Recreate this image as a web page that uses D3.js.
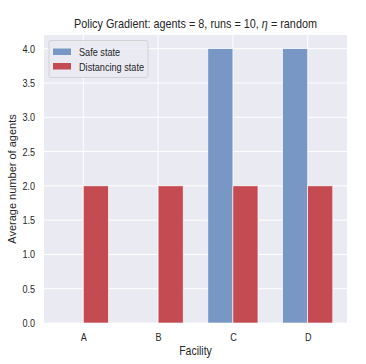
<!DOCTYPE html>
<html>
<head>
<meta charset="utf-8">
<script src="https://cdn.jsdelivr.net/npm/d3@7"></script>
<style>
  body { margin: 0; background: #fff; }
  text { font-family: "Liberation Sans", Arial, sans-serif; fill: #262626; }
</style>
</head>
<body>
<div id="chart"></div>
<script>
const facilities = ["A", "B", "C", "D"];
const safeState = [0, 0, 4, 4];
const distancingState = [2, 2, 2, 2];
const yTicks = [0, 0.5, 1, 1.5, 2, 2.5, 3, 3.5, 4];

const width = 366, height = 364;
const margin = {left: 44, right: 19, top: 35, bottom: 41};
const squeeze = 0.84; // the source picture's text looks horizontally condensed

const svg = d3.select("#chart").append("svg")
  .attr("width", width)
  .attr("height", height);

// x as numeric positions like matplotlib
const x = d3.scaleLinear()
  .domain([-0.525, facilities.length - 1 + 0.525])
  .range([margin.left, width - margin.right]);
const y = d3.scaleLinear()
  .domain([0, 4.2])
  .range([height - margin.bottom, margin.top]);

const barW = 0.335;

svg.append("rect")
  .attr("x", margin.left)
  .attr("y", margin.top)
  .attr("width", width - margin.left - margin.right)
  .attr("height", height - margin.top - margin.bottom)
  .attr("fill", "#eaeaf2");

// grid
svg.append("g").selectAll("line")
  .data(yTicks).join("line")
  .attr("x1", margin.left).attr("x2", width - margin.right)
  .attr("y1", d => y(d)).attr("y2", d => y(d))
  .attr("stroke", "#fff").attr("stroke-width", 1);
svg.append("g").selectAll("line")
  .data(facilities).join("line")
  .attr("x1", (d, i) => x(i)).attr("x2", (d, i) => x(i))
  .attr("y1", margin.top).attr("y2", height - margin.bottom)
  .attr("stroke", "#fff").attr("stroke-width", 1);

// bars
svg.append("g").selectAll("rect")
  .data(safeState).join("rect")
  .attr("x", (d, i) => x(i - barW))
  .attr("width", x(barW) - x(0))
  .attr("y", d => y(d))
  .attr("height", d => y(0) - y(d))
  .attr("fill", "#7897c5")
  .attr("stroke", "#fff").attr("stroke-width", 0.6);

svg.append("g").selectAll("rect")
  .data(distancingState).join("rect")
  .attr("x", (d, i) => x(i))
  .attr("width", x(barW) - x(0))
  .attr("y", d => y(d))
  .attr("height", d => y(0) - y(d))
  .attr("fill", "#c54b53")
  .attr("stroke", "#fff").attr("stroke-width", 0.6);

// axes
const yAxis = svg.append("g")
  .attr("transform", `translate(${margin.left},0)`)
  .call(d3.axisLeft(y).tickValues(yTicks).tickFormat(d3.format(".1f")).tickSize(0).tickPadding(9 / squeeze));
yAxis.select(".domain").remove();
yAxis.selectAll("text")
  .style("font-size", "10.8px").attr("fill", "#262626")
  .attr("transform", `scale(${squeeze},1)`);

const xAxis = svg.append("g")
  .attr("transform", `translate(0,${height - margin.bottom})`)
  .call(d3.axisBottom(x).tickValues(d3.range(facilities.length)).tickFormat(i => facilities[i]).tickSize(0).tickPadding(10));
xAxis.select(".domain").remove();
xAxis.selectAll("text")
  .style("font-size", "10.8px").attr("fill", "#262626")
  .attr("transform", `scale(${squeeze},1)`);

// labels
svg.append("text")
  .attr("transform", `translate(${x(1.5)},355) scale(${squeeze},1)`)
  .attr("text-anchor", "middle")
  .style("font-size", "12.5px")
  .text("Facility");

svg.append("text")
  .attr("transform", `translate(16,${(margin.top + height - margin.bottom) / 2}) rotate(-90)`)
  .attr("text-anchor", "middle")
  .style("font-size", "11px")
  .text("Average number of agents");

const title = svg.append("text")
  .attr("transform", `translate(${x(1.5)},28) scale(${squeeze},1)`)
  .attr("text-anchor", "middle")
  .style("font-size", "12.9px");
title.append("tspan").text("Policy Gradient: agents = 8, runs = 10, ");
title.append("tspan").style("font-style", "italic").text("η");
title.append("tspan").text(" = random");

// legend
const legendItems = [
  {label: "Safe state", color: "#7897c5"},
  {label: "Distancing state", color: "#c54b53"}
];
const lg = svg.append("g").attr("transform", "translate(49,40.5)");
lg.append("rect")
  .attr("width", 99).attr("height", 37).attr("rx", 2)
  .attr("fill", "#eaeaf2").attr("fill-opacity", 0.8)
  .attr("stroke", "#cccccc").attr("stroke-width", 0.8);
const li = lg.selectAll("g.item").data(legendItems).join("g")
  .attr("class", "item")
  .attr("transform", (d, i) => `translate(4,${8 + i * 14.5})`);
li.append("rect").attr("width", 18).attr("height", 6.5).attr("fill", d => d.color);
li.append("text")
  .attr("transform", `translate(26,7.5) scale(${squeeze},1)`)
  .style("font-size", "10.9px")
  .text(d => d.label);
</script>
</body>
</html>
